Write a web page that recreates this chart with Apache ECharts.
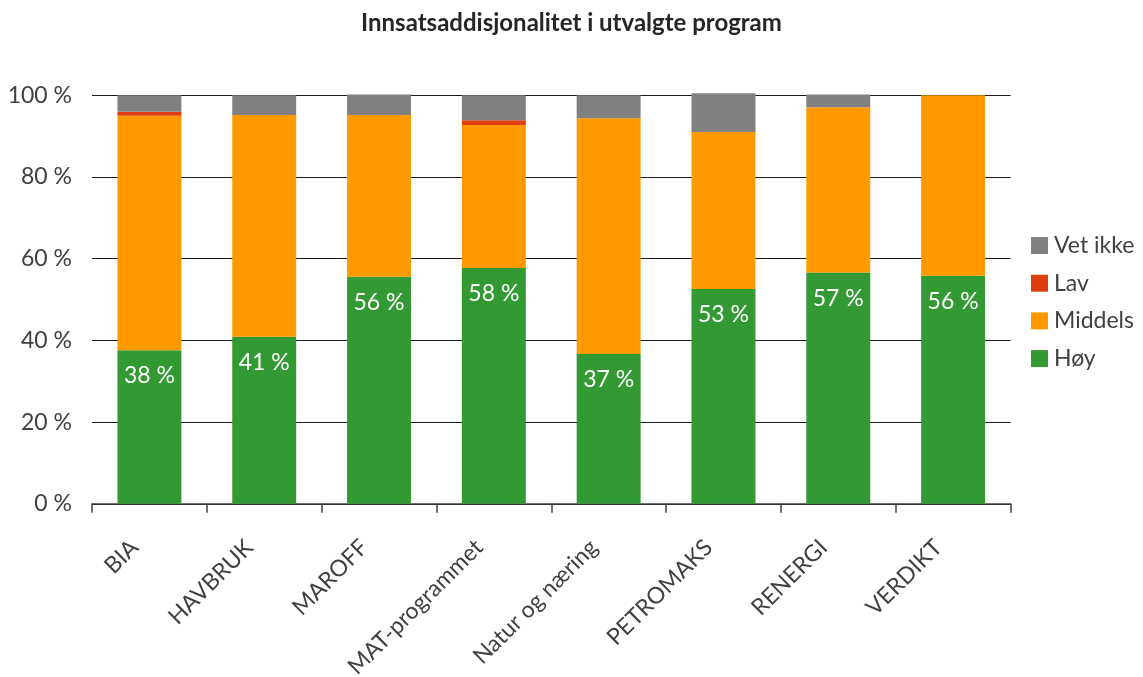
<!DOCTYPE html>
<html>
<head>
<meta charset="utf-8">
<script src="https://cdn.jsdelivr.net/npm/echarts@6/dist/echarts.min.js"></script>
<style>
html,body{margin:0;padding:0;background:#fff;}
#chart{width:1143px;height:677px;}
</style>
</head>
<body>
<div id="chart"></div>
<script>
const categories = ['BIA','HAVBRUK','MAROFF','MAT-programmet','Natur og næring','PETROMAKS','RENERGI','VERDIKT'];
const hoy      = [37.6, 40.9, 55.6, 57.7, 36.7, 52.6, 56.6, 55.8];
const middels  = [57.4, 54.3, 39.6, 35.0, 57.7, 38.4, 40.5, 44.2];
const lav      = [1.0, 0, 0, 1.2, 0, 0, 0, 0];
const vetIkke  = [4.0, 4.8, 5.0, 6.1, 5.6, 9.5, 3.1, 0];
const yTicks = [0, 20, 40, 60, 80, 100];

const FONT = 'Lato';
const chart = echarts.init(document.getElementById('chart'), null, {renderer:'canvas'});

function barSeries(name, data, color, withLabel){
  return {
    name: name, type: 'bar', stack: 'total', data: data,
    barWidth: '55.7%', clip: false,
    itemStyle: {color: color},
    label: withLabel ? {
      show: true, position: 'insideTop', distance: 14,
      color: '#ffffff', fontFamily: FONT, fontSize: 23,
      formatter: p => Math.round(p.value) + ' %'
    } : {show:false},
    emphasis: {disabled: true}
  };
}

chart.setOption({
  animation: false,
  backgroundColor: '#ffffff',
  title: {
    text: 'Innsatsaddisjonalitet i utvalgte program',
    left: 'center', top: 6,
    textStyle: {fontFamily: FONT, fontWeight: 'bold', fontSize: 24, color: '#262626'}
  },
  grid: {left: 92, right: 132.5, top: 95.3, bottom: 173.2, containLabel: false, outerBoundsMode: 'none'},
  legend: {
    orient: 'vertical', left: 1031, top: 234, padding: 0,
    itemWidth: 17, itemHeight: 17, itemGap: 14.7,
    icon: 'rect',
    data: ['Vet ikke','Lav','Middels','Høy'],
    textStyle: {fontFamily: FONT, fontSize: 23, color: '#404040', lineHeight: 23, padding: [0,0,0,1]}
  },
  xAxis: {
    type: 'category', data: categories,
    axisLine: {show: true, lineStyle: {color: '#404040', width: 1.5}},
    axisTick: {show: true, length: 9, alignWithLabel: false, lineStyle: {color: '#404040', width: 1.5}},
    axisLabel: {rotate: 45, margin: 25, padding: [0, 21, 0, 0], fontFamily: FONT, fontSize: 23, color: '#404040', interval: 0}
  },
  yAxis: {
    type: 'value', min: yTicks[0], max: yTicks[yTicks.length-1], interval: 20,
    axisLine: {show: false}, axisTick: {show: false},
    axisLabel: {formatter: '{value} %', margin: 20, fontFamily: FONT, fontSize: 23, color: '#404040'},
    splitLine: {lineStyle: {color: '#1a1a1a', width: 1.2}}
  },
  series: [
    barSeries('Høy', hoy, '#339933', true),
    barSeries('Middels', middels, '#ff9900', false),
    barSeries('Lav', lav, '#e03c12', false),
    barSeries('Vet ikke', vetIkke, '#808080', false)
  ]
});
</script>
</body>
</html>
